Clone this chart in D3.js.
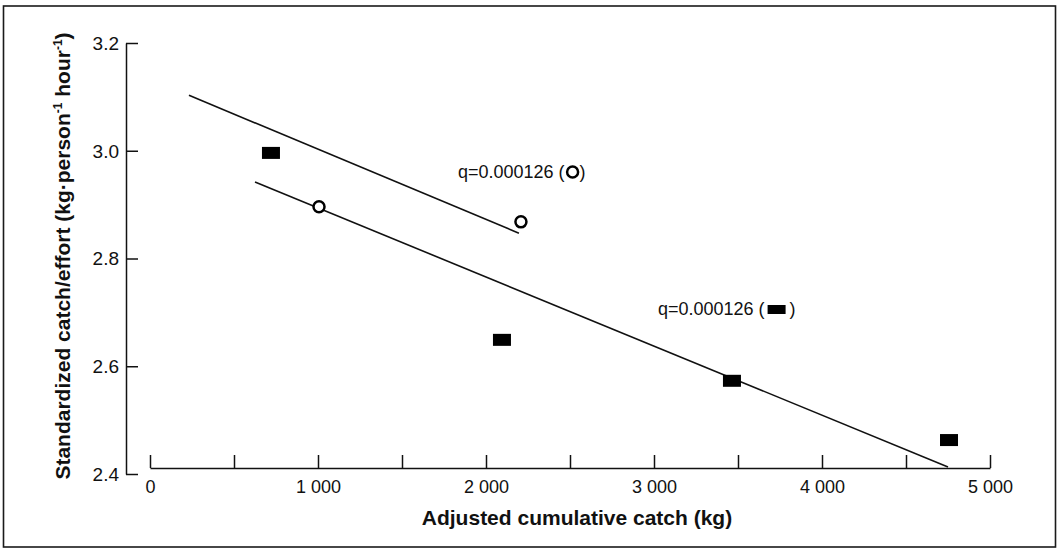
<!DOCTYPE html>
<html>
<head>
<meta charset="utf-8">
<script src="https://cdn.jsdelivr.net/npm/d3@7"></script>
<style>
  body { margin: 0; background: #fff; }
  svg { display: block; font-family: "Liberation Sans", Arial, Helvetica, sans-serif; }
</style>
</head>
<body>
<div id="chart"></div>
<script>
const width = 1058;
const height = 558;

// filled squares (catch, cpue)
const squareX = [720, 2095, 3464, 4756];
const squareY = [2.996, 2.649, 2.573, 2.463];
// open circles
const circleX = [1006, 2208];
const circleY = [2.896, 2.868];
// fitted lines [start, end]
const upperLineX = [232, 2196];
const upperLineY = [3.103, 2.847];
const lowerLineX = [625, 4750];
const lowerLineY = [2.942, 2.413];

const xTicks = [0, 500, 1000, 1500, 2000, 2500, 3000, 3500, 4000, 4500, 5000];
const xTickLabels = ["0", "", "1 000", "", "2 000", "", "3 000", "", "4 000", "", "5 000"];
const yTicks = [2.4, 2.6, 2.8, 3.0, 3.2];
const yTickLabels = ["2.4", "2.6", "2.8", "3.0", "3.2"];
const legendLabels = ["q=0.000126 (", "q=0.000126 ("];

const svg = d3
  .select("#chart")
  .append("svg")
  .attr("width", width)
  .attr("height", height);

// scanned frame
svg
  .append("rect")
  .attr("x", 3.5)
  .attr("y", 6)
  .attr("width", 1052)
  .attr("height", 541)
  .attr("fill", "none")
  .attr("stroke", "#1a1a1a")
  .attr("stroke-width", 1.6);

const x = d3.scaleLinear().domain([0, 5000]).range([150, 990]);
const y = d3.scaleLinear().domain([2.4, 3.2]).range([474, 43]);

// x axis (sits slightly above 2.4 like the original)
const xAxis = d3
  .axisBottom(x)
  .tickValues(xTicks)
  .tickSizeInner(-13)
  .tickSizeOuter(0)
  .tickFormat((d, i) => xTickLabels[i]);

const gx = svg.append("g").attr("transform", "translate(0,468)").call(xAxis);
gx.selectAll("text")
  .attr("y", 25)
  .attr("dy", 0)
  .style("font-size", "18px")
  .attr("fill", "#111");
gx.selectAll("path, line").attr("stroke", "#111").attr("stroke-width", 1.5);

const yAxis = d3
  .axisLeft(y)
  .tickValues(yTicks)
  .tickSizeInner(-12)
  .tickSizeOuter(0)
  .tickFormat((d, i) => yTickLabels[i]);

const gy = svg.append("g").attr("transform", "translate(126,0)").call(yAxis);
gy.selectAll("text")
  .attr("x", -7)
  .attr("dy", "0.34em")
  .style("font-size", "19px")
  .attr("fill", "#111");
gy.selectAll("path, line").attr("stroke", "#111").attr("stroke-width", 1.5);

// axis titles
svg
  .append("text")
  .attr("x", 577)
  .attr("y", 525)
  .attr("text-anchor", "middle")
  .style("font-size", "21px")
  .style("font-weight", "bold")
  .attr("fill", "#111")
  .text("Adjusted cumulative catch (kg)");

const yTitle = svg
  .append("text")
  .attr("transform", "translate(70,256) rotate(-90)")
  .attr("text-anchor", "middle")
  .style("font-size", "21px")
  .style("font-weight", "bold")
  .attr("fill", "#111");
yTitle.append("tspan").text("Standardized catch/effort (kg·person");
yTitle.append("tspan").attr("dy", -8).style("font-size", "12px").text("-1");
yTitle.append("tspan").attr("dy", 8).text(" hour");
yTitle.append("tspan").attr("dy", -8).style("font-size", "12px").text("-1");
yTitle.append("tspan").attr("dy", 8).text(")");

// fitted lines
const line = d3
  .line()
  .x((d) => x(d[0]))
  .y((d) => y(d[1]));

[
  [upperLineX, upperLineY],
  [lowerLineX, lowerLineY],
].forEach(([lx, ly]) => {
  svg
    .append("path")
    .datum(lx.map((v, i) => [v, ly[i]]))
    .attr("d", line)
    .attr("fill", "none")
    .attr("stroke", "#111")
    .attr("stroke-width", 1.6);
});

// points
svg
  .selectAll("rect.sq")
  .data(squareX.map((v, i) => [v, squareY[i]]))
  .join("rect")
  .attr("class", "sq")
  .attr("x", (d) => x(d[0]) - 9)
  .attr("y", (d) => y(d[1]) - 6)
  .attr("width", 18)
  .attr("height", 12)
  .attr("fill", "#000");

svg
  .selectAll("circle.pt")
  .data(circleX.map((v, i) => [v, circleY[i]]))
  .join("circle")
  .attr("class", "pt")
  .attr("cx", (d) => x(d[0]))
  .attr("cy", (d) => y(d[1]))
  .attr("r", 5.5)
  .attr("fill", "#fff")
  .attr("stroke", "#000")
  .attr("stroke-width", 2.5);

// labels with symbols
function label(px, py, txt, symbol) {
  const t = svg
    .append("text")
    .attr("x", px)
    .attr("y", py)
    .style("font-size", "18px")
    .attr("fill", "#111")
    .text(txt);
  const len = t.node().getComputedTextLength();
  if (symbol === "circle") {
    svg
      .append("circle")
      .attr("cx", px + len + 8)
      .attr("cy", py - 6)
      .attr("r", 5.5)
      .attr("fill", "none")
      .attr("stroke", "#000")
      .attr("stroke-width", 2.5);
    svg.append("text").attr("x", px + len + 15).attr("y", py)
      .style("font-size", "18px").attr("fill", "#111").text(")");
  } else {
    svg
      .append("rect")
      .attr("x", px + len + 3)
      .attr("y", py - 10)
      .attr("width", 18)
      .attr("height", 9)
      .attr("fill", "#000");
    svg.append("text").attr("x", px + len + 25).attr("y", py)
      .style("font-size", "18px").attr("fill", "#111").text(")");
  }
}

label(458, 178, legendLabels[0], "circle");
label(658, 315, legendLabels[1], "square");
</script>
</body>
</html>
